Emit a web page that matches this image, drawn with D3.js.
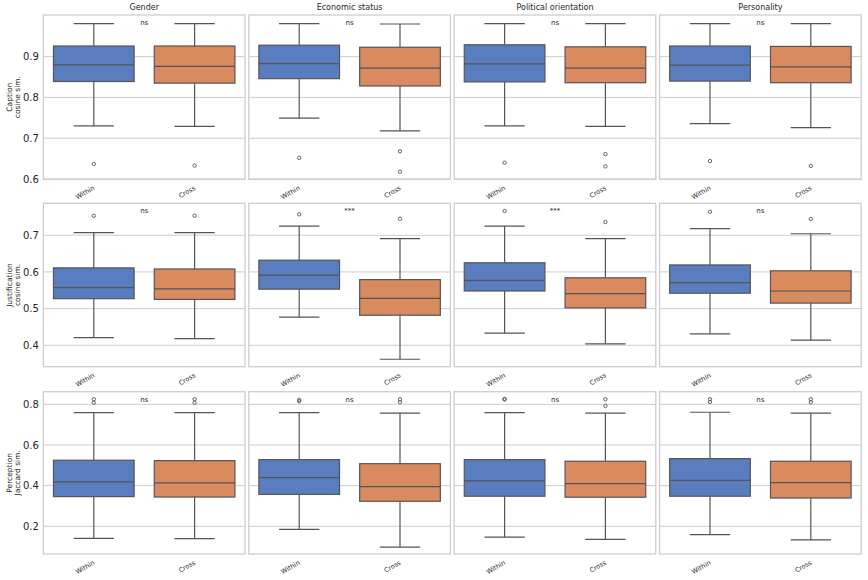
<!DOCTYPE html>
<html><head><meta charset="utf-8">
<script src="https://cdn.jsdelivr.net/npm/d3@7"></script>
<style>
body{margin:0;background:#fff;}
svg{display:block;font-family:"DejaVu Sans",sans-serif;}
</style></head>
<body><svg id="chart" width="868" height="580"></svg>
<script>
// ---- data ----
const facets = ["Gender", "Economic status", "Political orientation", "Personality"];
const groups = ["Within", "Cross"];
const yLabels = [["Caption", "cosine sim."], ["Justification", "cosine sim."], ["Perception", "Jaccard sim."]];
const yTicks = [[0.6, 0.7, 0.8, 0.9], [0.4, 0.5, 0.6, 0.7], [0.2, 0.4, 0.6, 0.8]];
const yDomains = [[0.5993, 1.002], [0.3417, 0.787], [0.0638, 0.862]];
const significance = [["ns", "ns", "ns", "ns"], ["ns", "***", "***", "ns"], ["ns", "ns", "ns", "ns"]];

// box stats: [lower whisker, Q1, median, Q3, upper whisker] per facet
const captionWithin = [[0.730, 0.839, 0.880, 0.926, 0.981], [0.749, 0.846, 0.883, 0.928, 0.981], [0.730, 0.838, 0.882, 0.929, 0.981], [0.736, 0.840, 0.879, 0.926, 0.981]];
const captionCross  = [[0.729, 0.835, 0.876, 0.926, 0.981], [0.718, 0.828, 0.872, 0.923, 0.980], [0.729, 0.836, 0.872, 0.924, 0.981], [0.726, 0.836, 0.875, 0.925, 0.981]];
const captionOutWithin = [[0.637], [0.652], [0.640], [0.644]];
const captionOutCross  = [[0.633], [0.668, 0.618], [0.661, 0.631], [0.632]];

const justWithin = [[0.421, 0.527, 0.557, 0.611, 0.707], [0.477, 0.553, 0.591, 0.632, 0.725], [0.433, 0.548, 0.577, 0.625, 0.725], [0.431, 0.542, 0.571, 0.619, 0.718]];
const justCross  = [[0.418, 0.525, 0.554, 0.608, 0.707], [0.362, 0.482, 0.528, 0.579, 0.691], [0.404, 0.502, 0.541, 0.584, 0.691], [0.414, 0.515, 0.548, 0.603, 0.704]];
const justOutWithin = [[0.753], [0.757], [0.766], [0.764]];
const justOutCross  = [[0.753], [0.745], [0.736], [0.744]];

const percWithin = [[0.141, 0.346, 0.419, 0.525, 0.759], [0.185, 0.357, 0.439, 0.528, 0.759], [0.147, 0.348, 0.423, 0.528, 0.759], [0.159, 0.348, 0.426, 0.533, 0.761]];
const percCross  = [[0.139, 0.344, 0.414, 0.523, 0.759], [0.098, 0.323, 0.395, 0.508, 0.757], [0.136, 0.343, 0.410, 0.520, 0.757], [0.133, 0.339, 0.415, 0.520, 0.757]];
const percOutWithin = [[0.825, 0.808], [0.822, 0.815], [0.826, 0.824], [0.825, 0.812]];
const percOutCross  = [[0.825, 0.808], [0.825, 0.810], [0.825, 0.792], [0.825, 0.810]];

const rowStats = [[captionWithin, captionCross], [justWithin, justCross], [percWithin, percCross]];
const rowOutliers = [[captionOutWithin, captionOutCross], [justOutWithin, justOutCross], [percOutWithin, percOutCross]];
const groupColors = ["#597dbf", "#d98b5f"];

// ---- layout ----
const svg = d3.select("#chart");
const rowTops = [15, 203.3, 391.7];
const rowBottoms = [179.3, 366.7, 554];
const colLeft0 = 43.4, colW = 201.6, colStep = 205.4;
const lineCol = "#555555", textCol = "#262626", frameCol = "#cccccc";

rowStats.forEach((statsPair, r) => {
  const y = d3.scaleLinear().domain(yDomains[r]).range([rowBottoms[r], rowTops[r]]);
  facets.forEach((facet, c) => {
    const left = colLeft0 + c * colStep;
    const x = d3.scaleBand().domain(groups).range([left, left + colW]).padding(0);
    const g = svg.append("g");
    // grid
    g.selectAll("line.grid").data(yTicks[r]).join("line")
      .attr("x1", left).attr("x2", left + colW)
      .attr("y1", d => y(d)).attr("y2", d => y(d))
      .attr("stroke", frameCol).attr("stroke-width", 1);
    // frame
    g.append("rect").attr("x", left).attr("y", rowTops[r])
      .attr("width", colW).attr("height", rowBottoms[r] - rowTops[r])
      .attr("fill", "none").attr("stroke", frameCol).attr("stroke-width", 1.25);
    // boxes
    groups.forEach((grp, gi) => {
      const s = statsPair[gi][c];
      const cx = x(grp) + x.bandwidth() / 2;
      const bw = x.bandwidth() * 0.8;
      const cw = bw * 0.5;
      const bg = g.append("g");
      bg.append("line").attr("x1", cx).attr("x2", cx).attr("y1", y(s[0])).attr("y2", y(s[1]))
        .attr("stroke", lineCol).attr("stroke-width", 1.2);
      bg.append("line").attr("x1", cx).attr("x2", cx).attr("y1", y(s[3])).attr("y2", y(s[4]))
        .attr("stroke", lineCol).attr("stroke-width", 1.2);
      [s[0], s[4]].forEach(v => bg.append("line").attr("x1", cx - cw / 2).attr("x2", cx + cw / 2)
        .attr("y1", y(v)).attr("y2", y(v)).attr("stroke", lineCol).attr("stroke-width", 1.2));
      bg.append("rect").attr("x", cx - bw / 2).attr("y", y(s[3]))
        .attr("width", bw).attr("height", y(s[1]) - y(s[3]))
        .attr("fill", groupColors[gi]).attr("stroke", lineCol).attr("stroke-width", 1.2);
      bg.append("line").attr("x1", cx - bw / 2).attr("x2", cx + bw / 2)
        .attr("y1", y(s[2])).attr("y2", y(s[2])).attr("stroke", lineCol).attr("stroke-width", 1.2);
      bg.selectAll("circle").data(rowOutliers[r][gi][c]).join("circle")
        .attr("cx", cx).attr("cy", d => y(d)).attr("r", 1.7)
        .attr("fill", "none").attr("stroke", lineCol).attr("stroke-width", 0.9);
      // x tick label
      g.append("text").attr("transform", `translate(${cx - 1},${rowBottoms[r] + 6}) rotate(-30)`)
        .attr("text-anchor", "end").attr("dy", "0.7em")
        .attr("font-size", 6.5).attr("fill", textCol).text(grp);
    });
    // significance
    g.append("text").attr("x", left + colW / 2)
      .attr("y", rowTops[r] + 0.05 * (rowBottoms[r] - rowTops[r]))
      .attr("dominant-baseline", "middle").attr("text-anchor", "middle")
      .attr("font-size", 7).attr("fill", textCol).text(significance[r][c]);
    // titles
    if (r === 0) {
      g.append("text").attr("x", left + colW / 2).attr("y", rowTops[0] - 5)
        .attr("text-anchor", "middle").attr("font-size", 8).attr("fill", textCol).text(facet);
    }
    // y axis
    if (c === 0) {
      const ax = g.append("g").attr("transform", `translate(${left},0)`)
        .call(d3.axisLeft(y).tickValues(yTicks[r]).tickSize(0).tickPadding(4.5).tickFormat(d3.format(".1f")));
      ax.select(".domain").remove();
      ax.selectAll("text").attr("font-size", 10).attr("fill", textCol).attr("font-family", "DejaVu Sans");
      const cyMid = (rowTops[r] + rowBottoms[r]) / 2;
      const lab = g.append("text").attr("transform", `translate(13,${cyMid}) rotate(-90)`)
        .attr("text-anchor", "middle").attr("font-size", 7.5).attr("fill", textCol);
      yLabels[r].forEach((t, i) => lab.append("tspan").attr("x", 0).attr("dy", i === 0 ? "-0.1em" : "1em").text(t));
    }
  });
});
</script>
</body></html>
